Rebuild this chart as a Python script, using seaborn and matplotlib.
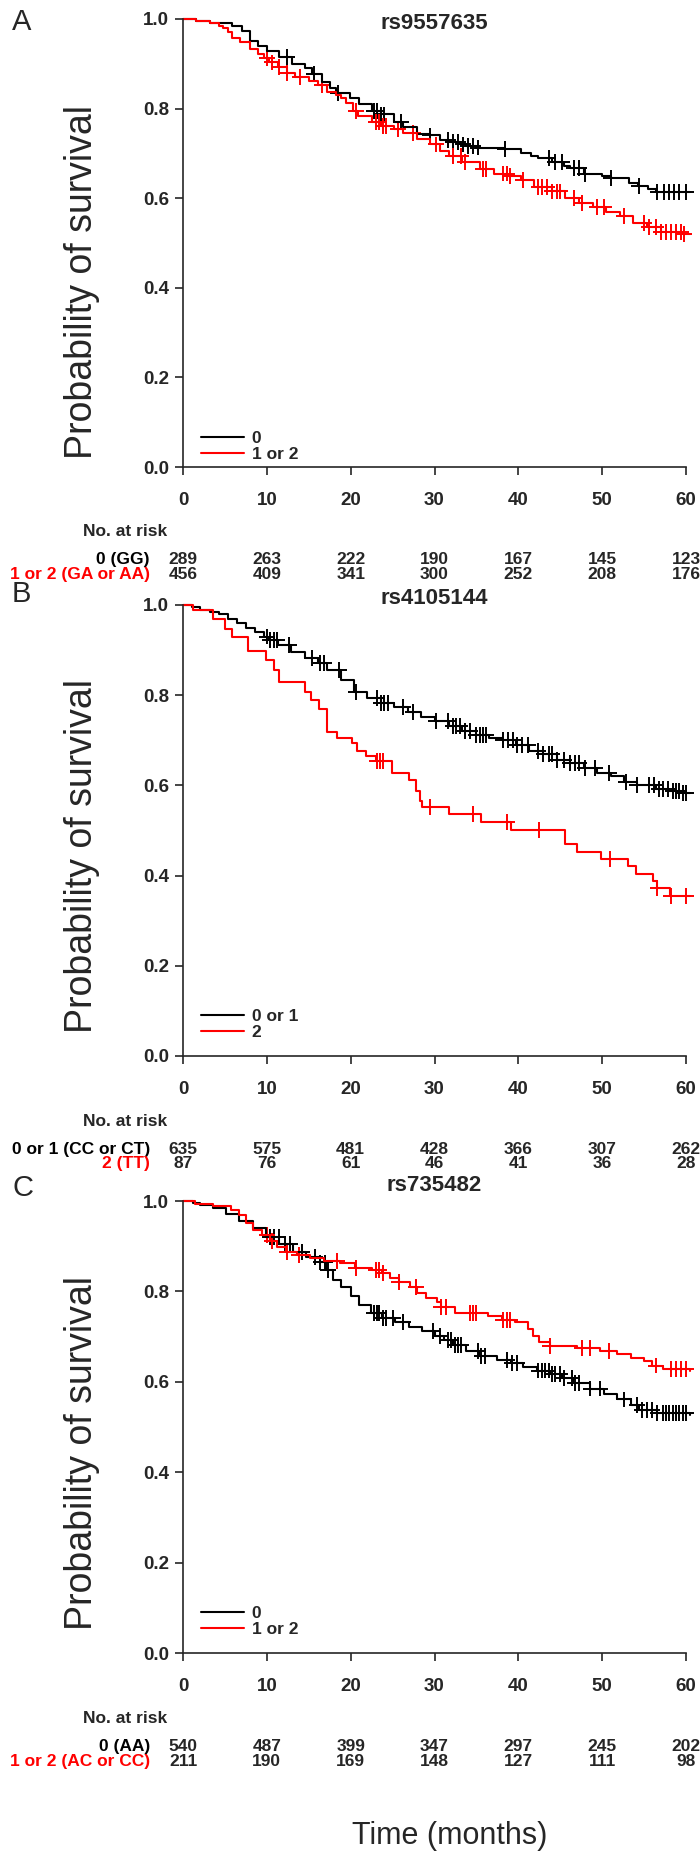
import numpy as np
import pandas as pd
import matplotlib
matplotlib.use("Agg")
from matplotlib import pyplot as plt
import seaborn as sns

sns.set_style("ticks")
plt.rcParams['font.family'] = ['Liberation Sans', 'DejaVu Sans']

risk_times = [0, 10, 20, 30, 40, 50, 60]

# ---- A: rs9557635
a_title = "rs9557635"
a_legend = ["0", "1 or 2"]
a_rows = ["0 (GG)", "1 or 2 (GA or AA)"]
a0_t = [0, 1.6, 3.2, 5.9, 7.0, 8.0, 9.0, 10.0, 11.5, 13.0, 14.5, 15.4, 16.6, 17.5, 18.3, 19.9, 21.0,
        22.6, 23.6, 25.2, 26.3, 27.9, 29.5, 30.6, 31.7, 33.0, 33.8, 34.9, 37.0, 38.4, 40.3, 41.5,
        42.4, 44.0, 45.5, 46.2, 47.8, 50.0, 51.0, 53.2, 54.3, 55.5, 56.4, 60.5]
a0_s = [1.0, 0.995, 0.99, 0.984, 0.974, 0.95, 0.94, 0.929, 0.915, 0.90, 0.89, 0.878, 0.86, 0.845,
        0.834, 0.824, 0.81, 0.795, 0.787, 0.771, 0.759, 0.743, 0.74, 0.73, 0.726, 0.72, 0.716, 0.713,
        0.711, 0.71, 0.70, 0.695, 0.69, 0.68, 0.672, 0.667, 0.653, 0.649, 0.645, 0.633, 0.627, 0.62,
        0.614, 0.614]
a0_cens = [12.4, 15.6, 18.5, 22.8, 23.2, 23.6, 24.0, 26.0, 29.5, 31.6, 32.2, 32.8, 33.4, 34.0, 34.6,
           35.2, 38.4, 43.6, 44.4, 45.2, 46.6, 47.2, 48.0, 51.0, 54.4, 56.6, 57.4, 58.0, 58.6, 59.2, 60.0]
a1_t = [0, 1.6, 3.2, 4.3, 4.8, 5.4, 5.9, 6.8, 8.0, 9.0, 9.7, 10.2, 11.3, 12.4, 13.4, 15.0, 16.1,
        17.2, 18.2, 18.8, 19.5, 20.3, 20.9, 22.6, 23.6, 25.2, 26.3, 27.9, 29.5, 30.6, 31.7, 33.3,
        35.4, 37.1, 38.7, 40.3, 41.9, 44.0, 45.6, 47.2, 48.9, 50.5, 52.1, 53.7, 55.3, 57.0, 59.6, 60.5]
a1_s = [1.0, 0.995, 0.99, 0.985, 0.98, 0.97, 0.958, 0.948, 0.933, 0.922, 0.913, 0.903, 0.893, 0.88,
        0.87, 0.862, 0.852, 0.838, 0.83, 0.823, 0.812, 0.795, 0.783, 0.77, 0.762, 0.755, 0.745, 0.733,
        0.72, 0.705, 0.695, 0.68, 0.665, 0.655, 0.65, 0.64, 0.625, 0.615, 0.60, 0.59, 0.58, 0.57,
        0.56, 0.545, 0.535, 0.525, 0.52, 0.52]
a1_cens = [10.0, 10.6, 11.4, 12.4, 14.0, 16.6, 20.6, 23.0, 23.4, 23.8, 24.2, 25.6, 27.4, 30.2, 32.2,
           33.2, 33.6, 35.8, 36.2, 38.2, 38.6, 39.0, 40.6, 42.4, 42.8, 43.4, 44.0, 44.6, 45.0, 46.6,
           47.6, 49.4, 50.2, 52.6, 55.0, 55.6, 56.4, 57.0, 57.6, 58.2, 58.8, 59.4, 59.8]
a_risk0 = [289, 263, 222, 190, 167, 145, 123]
a_risk1 = [456, 409, 341, 300, 252, 208, 176]

# ---- B: rs4105144
b_title = "rs4105144"
b_legend = ["0 or 1", "2"]
b_rows = ["0 or 1 (CC or CT)", "2 (TT)"]
b0_t = [0, 1.1, 2.0, 3.2, 4.3, 5.4, 6.4, 7.5, 8.6, 9.7, 10.2, 11.3, 12.9, 14.5, 16.1, 17.2, 18.8,
        20.4, 22.0, 23.6, 25.2, 26.8, 28.4, 30.1, 31.7, 33.3, 34.9, 36.5, 38.1, 39.7, 41.3, 42.9,
        44.6, 46.2, 47.8, 49.4, 51.0, 52.6, 54.2, 56.4, 58.0, 59.5, 60.5]
b0_s = [1.0, 0.995, 0.99, 0.985, 0.98, 0.97, 0.96, 0.95, 0.94, 0.93, 0.923, 0.911, 0.895, 0.883,
        0.871, 0.855, 0.834, 0.808, 0.794, 0.782, 0.774, 0.762, 0.751, 0.743, 0.732, 0.721, 0.711,
        0.705, 0.70, 0.689, 0.677, 0.669, 0.657, 0.649, 0.638, 0.628, 0.62, 0.608, 0.60, 0.592,
        0.588, 0.584, 0.584]
b0_cens = [10.0, 10.4, 10.8, 11.2, 12.6, 15.4, 16.4, 16.8, 18.6, 20.6, 23.2, 23.6, 24.0, 24.4, 26.2,
           27.4, 30.2, 31.6, 32.2, 32.6, 33.0, 33.6, 34.2, 35.0, 35.4, 35.8, 36.2, 38.2, 38.8, 39.4,
           39.8, 40.4, 41.2, 42.4, 43.0, 43.6, 44.0, 44.6, 45.4, 46.2, 46.8, 47.2, 48.0, 49.2, 50.8,
           52.8, 54.2, 55.6, 56.2, 56.8, 57.2, 57.8, 58.4, 58.8, 59.2, 59.6, 60.0]
b1_t = [0, 1.2, 3.6, 5.0, 5.8, 7.8, 9.9, 10.8, 11.4, 14.5, 15.3, 16.2, 17.2, 18.4, 20.1, 20.8, 21.8,
        23.0, 24.9, 27.0, 27.8, 28.3, 28.5, 31.7, 35.5, 39.1, 45.6, 47.0, 49.9, 53.1, 54.0, 56.1,
        56.5, 58.1, 60.5]
b1_s = [1.0, 0.99, 0.969, 0.947, 0.929, 0.897, 0.877, 0.855, 0.83, 0.806, 0.79, 0.77, 0.719, 0.705,
        0.693, 0.677, 0.665, 0.654, 0.628, 0.612, 0.588, 0.565, 0.552, 0.536, 0.519, 0.502, 0.471,
        0.453, 0.437, 0.422, 0.404, 0.388, 0.372, 0.355, 0.355]
b1_cens = [23.1, 23.5, 23.9, 29.5, 34.6, 38.6, 42.5, 50.9, 56.6, 58.2, 60.0]
b_risk0 = [635, 575, 481, 428, 366, 307, 262]
b_risk1 = [87, 76, 61, 46, 41, 36, 28]

# ---- C: rs735482
c_title = "rs735482"
c_legend = ["0", "1 or 2"]
c_rows = ["0 (AA)", "1 or 2 (AC or CC)"]
c0_t = [0, 1.2, 2.0, 3.6, 5.1, 6.7, 8.3, 9.9, 11.5, 13.1, 14.7, 16.3, 17.1, 17.9, 18.9, 20.0, 21.0,
        22.4, 23.7, 25.3, 26.9, 28.5, 30.0, 31.1, 32.2, 33.8, 35.3, 37.5, 39.1, 40.6, 42.2, 43.8,
        45.2, 46.5, 48.6, 50.2, 51.8, 53.4, 54.4, 56.6, 60.5]
c0_s = [1.0, 0.995, 0.992, 0.984, 0.972, 0.956, 0.94, 0.92, 0.904, 0.888, 0.876, 0.864, 0.848,
        0.825, 0.809, 0.789, 0.769, 0.753, 0.741, 0.733, 0.721, 0.713, 0.701, 0.693, 0.681, 0.669,
        0.657, 0.649, 0.641, 0.633, 0.625, 0.617, 0.609, 0.597, 0.585, 0.573, 0.561, 0.549, 0.537,
        0.531, 0.526]
c0_cens = [10.4, 10.8, 11.4, 12.2, 12.8, 14.2, 15.8, 16.4, 16.9, 17.3, 22.8, 23.1, 23.4, 23.8, 24.2,
           25.0, 26.2, 29.8, 30.6, 31.6, 32.0, 32.4, 32.8, 33.2, 35.2, 35.6, 36.0, 38.6, 39.2, 39.8,
           42.4, 42.8, 43.2, 43.6, 44.0, 44.4, 45.0, 45.4, 46.4, 46.8, 47.2, 48.6, 49.8, 52.6, 54.2,
           54.8, 55.4, 56.0, 56.6, 57.2, 57.6, 58.0, 58.4, 58.8, 59.2, 59.6, 60.0]
c1_t = [0, 1.4, 3.6, 5.7, 6.7, 7.5, 8.3, 9.4, 10.4, 11.2, 12.3, 13.6, 15.2, 16.8, 18.7, 20.5, 22.6,
        23.7, 24.7, 25.8, 27.1, 27.9, 29.0, 30.3, 30.8, 32.4, 36.4, 38.0, 39.6, 41.2, 41.7, 42.5,
        43.8, 47.0, 49.7, 51.8, 53.4, 55.0, 56.0, 57.3, 60.5]
c1_s = [1.0, 0.994, 0.988, 0.98, 0.968, 0.952, 0.936, 0.924, 0.912, 0.898, 0.888, 0.88, 0.874,
        0.868, 0.863, 0.852, 0.848, 0.841, 0.829, 0.821, 0.809, 0.797, 0.786, 0.777, 0.765, 0.753,
        0.745, 0.737, 0.733, 0.717, 0.701, 0.689, 0.679, 0.675, 0.669, 0.661, 0.653, 0.645, 0.636,
        0.628, 0.624]
c1_cens = [10.0, 10.6, 12.4, 13.8, 18.4, 20.6, 23.0, 23.4, 23.8, 25.8, 27.8, 30.8, 31.4, 34.2, 34.6,
           35.0, 38.2, 38.6, 39.0, 43.8, 47.6, 48.6, 50.8, 56.4, 58.2, 58.8, 59.4, 60.0]
c_risk0 = [540, 487, 399, 347, 297, 245, 202]
c_risk1 = [211, 190, 169, 148, 127, 111, 98]

RED = "#ff0000"
W, H = 700, 1855
FS = 12.5  # risk table / legend text size


def km_df(t, s, lab):
    return pd.DataFrame({'time': t, 'surv': s, 'group': lab})


def cens_df(cens, t, s, lab):
    # censor marks sit on the step curve
    idx = np.searchsorted(t, cens, side='right') - 1
    return pd.DataFrame({'time': cens, 'surv': np.asarray(s)[idx], 'group': lab})


def panel(ax, legend, rows, curves, cens, risks, title, title_dy, ylab_y, leg_y):
    pal = {legend[0]: 'black', legend[1]: RED}
    lines = pd.concat([km_df(*curves[0], legend[0]), km_df(*curves[1], legend[1])])
    marks = pd.concat([cens_df(cens[0], *curves[0], legend[0]),
                       cens_df(cens[1], *curves[1], legend[1])])
    sns.lineplot(data=lines, x='time', y='surv', hue='group', hue_order=legend, palette=pal,
                 estimator=None, drawstyle='steps-post', lw=1.5, clip_on=False, ax=ax)
    sns.scatterplot(data=marks, x='time', y='surv', hue='group', hue_order=legend, palette=pal,
                    marker='+', s=130, linewidth=1.4, legend=False, clip_on=False, ax=ax)

    old = ax.get_legend()
    handles = old.legend_handles
    ax.legend(handles, legend, loc='center left', bbox_to_anchor=(0.035, leg_y), frameon=False,
              borderpad=0, borderaxespad=0, handlelength=2.5, handletextpad=0.45,
              labelspacing=0.05, prop={'weight': 'bold', 'size': FS})

    ax.set_xlim(0, 60)
    ax.set_ylim(0, 1)
    ax.set_xticks(risk_times)
    ax.set_yticks([0, 0.2, 0.4, 0.6, 0.8, 1.0])
    ax.set_yticklabels(['0.0', '0.2', '0.4', '0.6', '0.8', '1.0'])
    ax.tick_params(axis='both', length=6, width=1.2, labelsize=13.5)
    ax.tick_params(axis='x', pad=12)
    ax.tick_params(axis='y', pad=4)
    for lab in ax.get_xticklabels() + ax.get_yticklabels():
        lab.set_fontweight('bold')
    ax.set_xlabel('')
    ax.set_ylabel('')
    sns.despine(ax=ax)
    for sp in ['left', 'bottom']:
        ax.spines[sp].set_linewidth(1.2)

    ax.text(0.5, 1 + title_dy, title, transform=ax.transAxes, ha='center', va='center',
            fontsize=16, fontweight='bold')
    ax.text(-0.2, ylab_y, 'Probability of survival', transform=ax.transAxes, rotation=90,
            ha='center', va='center', fontsize=27)

    # number at risk table
    xt = ax.get_xaxis_transform()
    ax.text(-0.199, -0.145, 'No. at risk', transform=ax.transAxes, ha='left', va='center',
            fontsize=FS, fontweight='bold')
    for k, (lab, col) in enumerate(zip(rows, ['black', RED])):
        yy = -0.207 - 0.032 * k
        ax.text(-0.066, yy, lab, transform=ax.transAxes, ha='right', va='center',
                fontsize=FS, fontweight='bold', color=col)
        for t, n in zip(risk_times, risks[k]):
            ax.text(t, yy, str(n), transform=xt, ha='center', va='center',
                    fontsize=FS, fontweight='bold')


fig = plt.figure(figsize=(W / 100, H / 100), dpi=100)

boxes = [(19, 467), (605, 1056), (1201, 1653)]
axes = []
for top, bot in boxes:
    axes.append(fig.add_axes([183 / W, 1 - bot / H, 503 / W, (bot - top) / H]))

panel(axes[0], a_legend, a_rows, [(a0_t, a0_s), (a1_t, a1_s)], [a0_cens, a1_cens],
      [a_risk0, a_risk1], a_title, -0.01, 0.413, 0.045)
panel(axes[1], b_legend, b_rows, [(b0_t, b0_s), (b1_t, b1_s)], [b0_cens, b1_cens],
      [b_risk0, b_risk1], b_title, 0.015, 0.443, 0.07)
panel(axes[2], c_legend, c_rows, [(c0_t, c0_s), (c1_t, c1_s)], [c0_cens, c1_cens],
      [c_risk0, c_risk1], c_title, 0.035, 0.442, 0.07)

for letter, y in zip(['A', 'B', 'C'], [22, 594, 1188]):
    fig.text(12 / W, 1 - y / H, letter, fontsize=21, ha='left', va='center')

fig.text(450 / W, 1 - 1836 / H, 'Time (months)', fontsize=22, ha='center', va='center')

fig.savefig('out.png', dpi=100)
